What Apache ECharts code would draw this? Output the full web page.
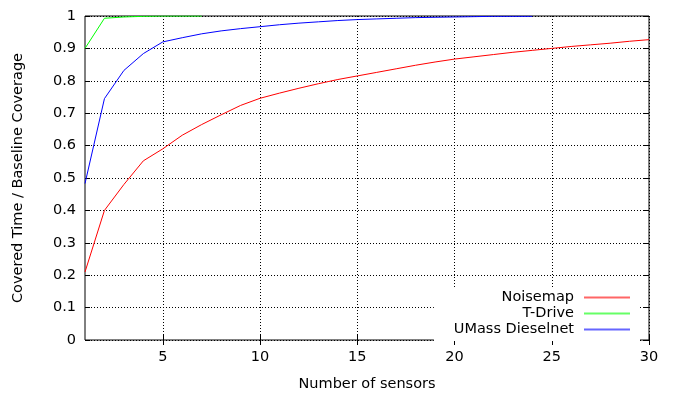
<!DOCTYPE html>
<html>
<head>
<meta charset="utf-8">
<script src="https://cdn.jsdelivr.net/npm/echarts@6/dist/echarts.min.js"></script>
<style>
  html, body { margin: 0; padding: 0; background: #fff; }
  #chart { width: 673px; height: 397px; }
</style>
</head>
<body>
<div id="chart"></div>
<script>
// number of sensors (x)
var sensors = [];
for (var i = 1; i <= 30; i++) sensors.push(i);

var noisemap = [0.21, 0.40, 0.48, 0.553, 0.59, 0.632, 0.665, 0.695, 0.724, 0.746,
  0.762, 0.777, 0.791, 0.804, 0.815, 0.826, 0.837, 0.848, 0.858, 0.867,
  0.874, 0.881, 0.888, 0.894, 0.900, 0.906, 0.911, 0.916, 0.922, 0.927];
var tdrive = [0.90, 0.993, 0.997, 0.999, 1.0, 1.0, 1.0];
var umass = [0.483, 0.745, 0.832, 0.884, 0.92, 0.933, 0.945, 0.954, 0.961, 0.967,
  0.973, 0.978, 0.982, 0.986, 0.989, 0.991, 0.993, 0.995, 0.996, 0.997,
  0.998, 0.999, 0.999, 0.999];

var xTicks = [5, 10, 15, 20, 25, 30];

function pairs(vals) {
  return vals.map(function (v, k) { return [sensors[k], v]; });
}

var font = 'DejaVu Sans';
var myChart = echarts.init(document.getElementById('chart'));

var option = {
  animation: false,
  backgroundColor: '#fff',
  grid: {
    left: 85, right: 24, top: 16, bottom: 53,
    show: true, borderColor: '#000', borderWidth: 1,
    containLabel: false
  },
  legend: {
    orient: 'vertical',
    right: 33,
    bottom: 56,
    align: 'right',
    icon: 'rect',
    itemWidth: 46,
    itemHeight: 2,
    itemGap: 1,
    padding: [2, 10, 4, 20],
    backgroundColor: '#fff',
    itemStyle: { opacity: 0.6 },
    textStyle: { fontFamily: font, fontSize: 14.5, color: '#000', padding: [0, 5, 0, 0] },
    data: ['Noisemap', 'T-Drive', 'UMass Dieselnet']
  },
  xAxis: [{
    type: 'value', min: 1, max: 30,
    name: 'Number of sensors', nameLocation: 'middle', nameGap: 37,
    nameTextStyle: { fontFamily: font, fontSize: 14.5, color: '#000' },
    axisLine: { show: false },
    axisTick: { show: true, inside: true, length: 5, customValues: xTicks, lineStyle: { color: '#000' } },
    axisLabel: { customValues: xTicks, fontFamily: font, fontSize: 14.5, color: '#000', margin: 10 },
    splitLine: { show: true, lineStyle: { color: '#000', type: [1, 2], width: 1 } }
  }, {
    type: 'value', min: 1, max: 30, position: 'top',
    axisLine: { show: false },
    axisTick: { show: true, inside: true, length: 5, customValues: xTicks, lineStyle: { color: '#000' } },
    axisLabel: { show: false },
    splitLine: { show: false }
  }],
  yAxis: [{
    type: 'value', min: 0, max: 1, interval: 0.1,
    name: 'Covered Time / Baseline Coverage', nameLocation: 'middle', nameGap: 59,
    nameTextStyle: { fontFamily: font, fontSize: 14.5, color: '#000' },
    axisLine: { show: false },
    axisTick: { show: true, inside: true, length: 5, lineStyle: { color: '#000' } },
    axisLabel: { fontFamily: font, fontSize: 14.5, color: '#000', margin: 9 },
    splitLine: { show: true, lineStyle: { color: '#000', type: [1, 2], width: 1 } }
  }, {
    type: 'value', min: 0, max: 1, interval: 0.1, position: 'right',
    axisLine: { show: false },
    axisTick: { show: true, inside: true, length: 5, lineStyle: { color: '#000' } },
    axisLabel: { show: false },
    splitLine: { show: false }
  }],
  series: [{
    name: 'Noisemap', type: 'line', showSymbol: false, color: '#ff0000',
    lineStyle: { width: 1 }, data: pairs(noisemap)
  }, {
    name: 'T-Drive', type: 'line', showSymbol: false, color: '#00ff00',
    lineStyle: { width: 1 }, data: pairs(tdrive)
  }, {
    name: 'UMass Dieselnet', type: 'line', showSymbol: false, color: '#0000ff',
    lineStyle: { width: 1 }, data: pairs(umass)
  }]
};

myChart.setOption(option);
</script>
</body>
</html>
